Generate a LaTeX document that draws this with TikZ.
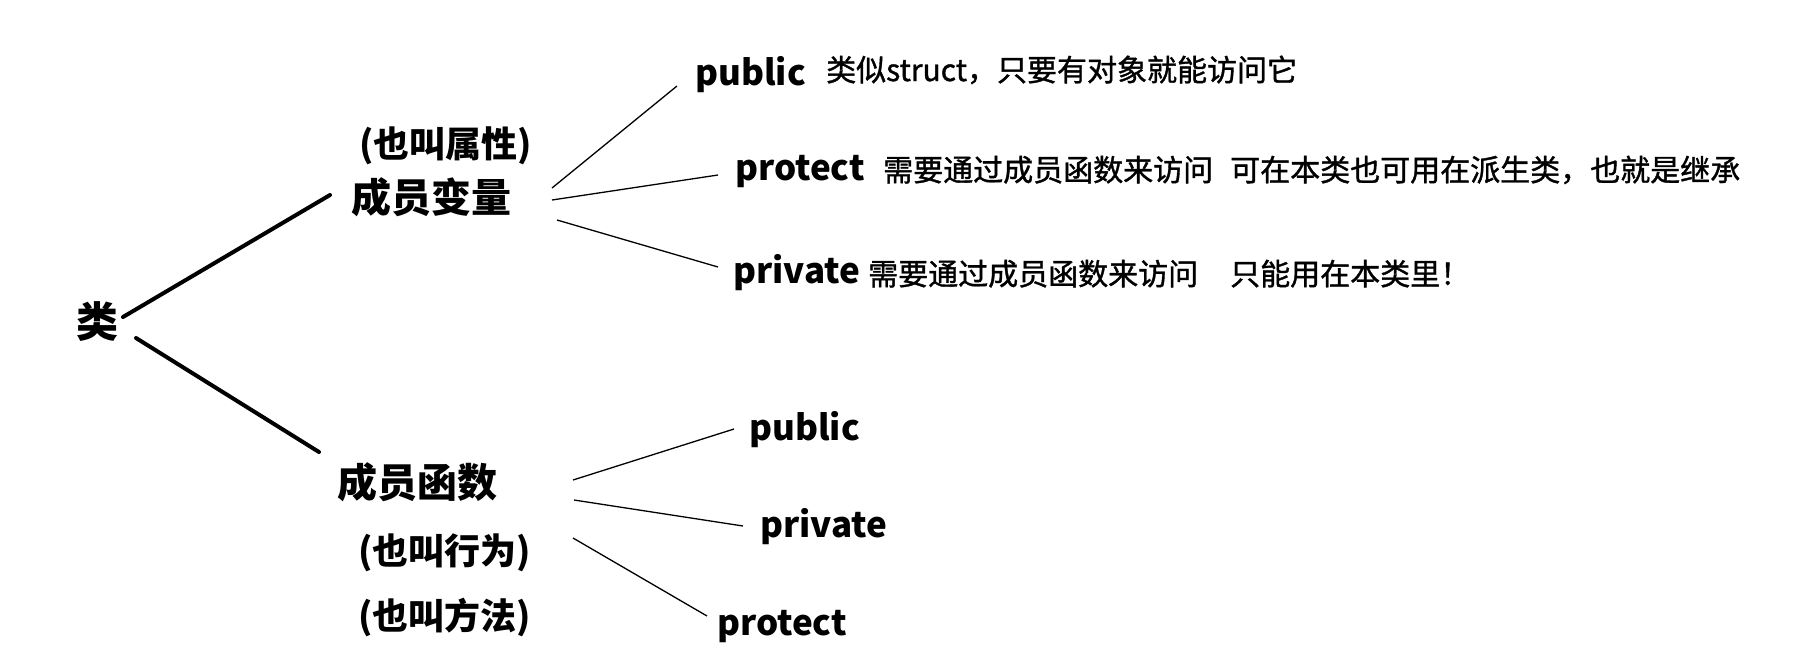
\documentclass[tikz,border=0pt]{standalone}
\usepackage{fontspec}
\setmainfont{Noto Sans CJK SC}
\newfontfamily\notefont{Noto Sans CJK SC}[FakeBold=1.2]
\begin{document}
\begin{tikzpicture}[x=1pt,y=-1pt,
  txt/.style={inner sep=0pt, anchor=base west, text=black},
  root/.style={txt, font=\bfseries\fontsize{42}{50}\selectfont},
  member/.style={txt, font=\bfseries\fontsize{40}{48}\selectfont},
  alias/.style={txt, font=\bfseries\fontsize{36}{43}\selectfont},
  access/.style={txt, font=\bfseries\fontsize{35}{42}\selectfont},
  note/.style={txt, font=\notefont\fontsize{30}{36}\selectfont},
  trunk/.style={line width=4pt, line cap=round},
  twig/.style={line width=1.3pt}]
\useasboundingbox (0,0) rectangle (1803,657);

% texts
\node[root]   (lei)  at (76,337)  {类};
\node[alias]  (mva)  at (359,157) {(也叫属性)};
\node[member] (mv)   at (351,212) {成员变量};
\node[member] (mf)   at (337,497) {成员函数};
\node[alias]  (mfa1) at (358,564) {(也叫行为)};
\node[alias]  (mfa2) at (358,629) {(也叫方法)};

\node[access] (pub1) at (695,85)  {public};
\node[note]   (n1)   at (826,81)  {类似struct，只要有对象就能访问它};
\node[access] (pro1) at (735,180) {protect};
\node[note]   (n2a)  at (883,181) {需要通过成员函数来访问};
\node[note]   (n2b)  at (1230,181) {可在本类也可用在派生类，也就是继承};
\node[access] (pri1) at (733,283) {private};
\node[note]   (n3a)  at (868,285) {需要通过成员函数来访问};
\node[note]   (n3b)  at (1230,285) {只能用在本类里！};

\node[access] (pub2) at (749,440) {public};
\node[access] (pri2) at (760,537) {private};
\node[access] (pro2) at (717,635) {protect};

% connector end points
\coordinate (lei-up) at (123,317);
\coordinate (lei-dn) at (136,338);
\coordinate (mv-in)  at (330,195);
\coordinate (mf-in)  at (319,452);

\coordinate (mv-o1) at (552,188);
\coordinate (mv-o2) at (552,200);
\coordinate (mv-o3) at (557,220);
\coordinate (pub1-in) at (677,86);
\coordinate (pro1-in) at (718,175);
\coordinate (pri1-in) at (718,267);

\coordinate (mf-o1) at (573,480);
\coordinate (mf-o2) at (574,500);
\coordinate (mf-o3) at (573,538);
\coordinate (pub2-in) at (734,429);
\coordinate (pri2-in) at (743,526);
\coordinate (pro2-in) at (707,616);

% connectors
\draw[trunk] (lei-up) -- (mv-in);
\draw[trunk] (lei-dn) -- (mf-in);

\draw[twig] (mv-o1) -- (pub1-in);
\draw[twig] (mv-o2) -- (pro1-in);
\draw[twig] (mv-o3) -- (pri1-in);

\draw[twig] (mf-o1) -- (pub2-in);
\draw[twig] (mf-o2) -- (pri2-in);
\draw[twig] (mf-o3) -- (pro2-in);
\end{tikzpicture}
\end{document}
